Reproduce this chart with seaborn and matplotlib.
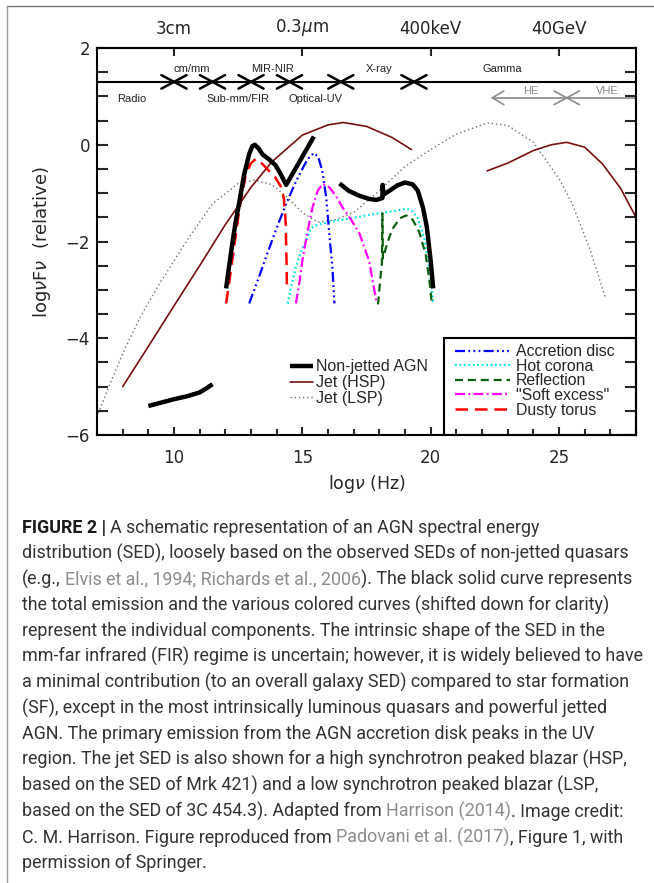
import matplotlib
matplotlib.use("Agg")
import matplotlib.pyplot as plt
import seaborn as sns
from matplotlib.lines import Line2D
from matplotlib.patches import Rectangle
from matplotlib.ticker import FixedLocator, MultipleLocator

# ---------------- data ----------------
agn_radio_x = [9.0, 9.5, 10.0, 10.5, 11.0, 11.25, 11.5]
agn_radio_y = [-5.4, -5.33, -5.26, -5.2, -5.12, -5.04, -4.95]

agn_ir_x = [12.03, 12.15, 12.27, 12.4, 12.54, 12.73, 12.93, 13.05, 13.15, 13.3,
            13.45, 13.7, 13.95, 14.15, 14.37, 14.9, 15.45]
agn_ir_y = [-2.97, -2.5, -2.05, -1.6, -1.2, -0.62, -0.19, -0.03, 0.0, -0.08,
            -0.2, -0.3, -0.42, -0.6, -0.83, -0.34, 0.17]

agn_x_x = [16.45, 16.8, 17.2, 17.6, 17.9, 18.12, 18.13, 18.16, 18.4, 18.7,
           19.0, 19.3, 19.5, 19.7, 19.85, 20.0, 20.1]
agn_x_y = [-0.8, -0.95, -1.05, -1.12, -1.14, -1.1, -0.83, -1.03, -0.95, -0.84,
           -0.78, -0.82, -0.95, -1.3, -1.7, -2.4, -2.97]

hsp_sync_x = [8.0, 9.0, 10.0, 11.0, 12.0, 13.0, 13.8, 15.0, 16.0, 16.6, 17.5, 18.5, 19.25]
hsp_sync_y = [-5.0, -4.17, -3.33, -2.5, -1.65, -0.88, -0.36, 0.2, 0.41, 0.46, 0.38, 0.15, -0.1]
hsp_ic_x = [22.2, 23.0, 24.0, 24.7, 25.3, 26.0, 26.7, 27.4, 28.0]
hsp_ic_y = [-0.54, -0.38, -0.12, 0.0, 0.05, -0.05, -0.4, -0.9, -1.5]

lsp_x = [7.05, 7.5, 8.1, 8.7, 9.4, 10.5, 11.5, 12.5, 13.1, 13.8, 14.4, 15.0, 15.6,
         16.3, 17.0, 18.0, 19.0, 20.0, 21.0, 22.2, 23.0, 24.0, 25.0, 25.5, 26.2, 26.8]
lsp_y = [-5.55, -4.95, -4.2, -3.55, -2.9, -1.98, -1.22, -0.8, -0.73, -0.82, -1.08,
         -1.4, -1.6, -1.55, -1.4, -0.95, -0.45, -0.1, 0.22, 0.45, 0.4, 0.05, -0.7,
         -1.2, -2.15, -3.15]

disc_x = [12.93, 13.3, 13.6, 14.0, 14.37, 14.7, 14.95, 15.2, 15.45, 15.62, 15.78,
          15.93, 16.05, 16.17, 16.25]
disc_y = [-3.28, -2.75, -2.3, -1.72, -1.22, -0.82, -0.55, -0.3, -0.17, -0.25, -0.55,
          -1.09, -1.84, -2.53, -3.28]

corona_x = [14.43, 14.6, 14.75, 14.95, 15.14, 15.34, 15.6, 16.2, 16.84, 17.5, 18.2,
            18.8, 19.06, 19.3, 19.5, 19.77, 19.97, 20.1]
corona_y = [-3.28, -2.85, -2.53, -2.2, -1.98, -1.72, -1.65, -1.58, -1.53, -1.46,
            -1.4, -1.35, -1.32, -1.38, -1.52, -1.98, -2.66, -3.26]

refl_x = [17.95, 18.0, 18.05, 18.1, 18.12, 18.14, 18.3, 18.5, 18.8, 19.05, 19.3,
          19.55, 19.8, 19.95, 20.05]
refl_y = [-3.3, -3.0, -2.7, -2.45, -1.42, -2.35, -2.05, -1.75, -1.52, -1.46, -1.55,
          -1.8, -2.25, -2.8, -3.3]

soft_x = [14.75, 14.9, 15.0, 15.2, 15.4, 15.6, 15.8, 16.05, 16.3, 16.56, 16.9,
          17.23, 17.6, 17.9]
soft_y = [-3.28, -2.8, -2.4, -1.8, -1.29, -0.95, -0.81, -0.88, -1.05, -1.29, -1.55,
          -1.84, -2.4, -3.28]

torus_x = [12.03, 12.15, 12.27, 12.4, 12.54, 12.8, 13.0, 13.2, 13.45, 13.7, 13.95,
           14.15, 14.28, 14.35, 14.38, 14.4]
torus_y = [-3.28, -2.85, -2.39, -1.9, -1.36, -0.6, -0.38, -0.29, -0.4, -0.54, -0.68,
           -0.85, -1.1, -1.6, -2.3, -2.95]

x_major_ticks = [10, 15, 20, 25]
top_tick_labels = ["3cm", "0.3$\\mu$m", "400keV", "40GeV"]

band_level = 1.3
band_edges = [10.0, 11.5, 13.0, 14.5, 16.5, 19.35]
upper_names = ["cm/mm", "MIR-NIR", "X-ray", "Gamma"]
upper_pos = [10.7, 13.85, 18.0, 22.8]
lower_names = ["Radio", "Sub-mm/FIR", "Optical-UV"]
lower_pos = [8.35, 12.5, 15.5]
gamma_level = 0.97
he_start = 22.4
he_vhe_edge = 25.3
gamma_names = ["HE", "VHE"]
gamma_pos = [23.9, 26.9]

legend_left_labels = ["Non-jetted AGN", "Jet (HSP)", "Jet (LSP)"]
legend_right_labels = ["Accretion disc", "Hot corona", "Reflection",
                       "\"Soft excess\"", "Dusty torus"]

caption_lines = [
    [("FIGURE 2 |", "k", "bold"), (" A schematic representation of an AGN spectral energy", "t", "normal")],
    [("distribution (SED), loosely based on the observed SEDs of non-jetted quasars", "t", "normal")],
    [("(e.g.,", "t", "normal"), (" Elvis et al., 1994; Richards et al., 2006", "g", "normal"),
     ("). The black solid curve represents", "t", "normal")],
    [("the total emission and the various colored curves (shifted down for clarity)", "t", "normal")],
    [("represent the individual components. The intrinsic shape of the SED in the", "t", "normal")],
    [("mm-far infrared (FIR) regime is uncertain; however, it is widely believed to have", "t", "normal")],
    [("a minimal contribution (to an overall galaxy SED) compared to star formation", "t", "normal")],
    [("(SF), except in the most intrinsically luminous quasars and powerful jetted", "t", "normal")],
    [("AGN. The primary emission from the AGN accretion disk peaks in the UV", "t", "normal")],
    [("region. The jet SED is also shown for a high synchrotron peaked blazar (HSP,", "t", "normal")],
    [("based on the SED of Mrk 421) and a low synchrotron peaked blazar (LSP,", "t", "normal")],
    [("based on the SED of 3C 454.3). Adapted from", "t", "normal"), (" Harrison (2014)", "g", "normal"),
     (". Image credit:", "t", "normal")],
    [("C. M. Harrison. Figure reproduced from", "t", "normal"), (" Padovani et al. (2017)", "g", "normal"),
     (", Figure 1, with", "t", "normal")],
    [("permission of Springer.", "t", "normal")],
]

# ---------------- styles ----------------
sns.set_style("ticks")
plt.rcParams['font.family'] = ['DejaVu Sans']
plt.rcParams['axes.unicode_minus'] = True
plt.rcParams['mathtext.fontset'] = 'dejavusans'

C_HSP = "#7a0f0f"
C_LSP = "#707070"
styles = {
    "agn": dict(color="black", linewidth=3.2, solid_capstyle="butt"),
    "hsp": dict(color=C_HSP, linewidth=1.2),
    "lsp": dict(color=C_LSP, linewidth=1.0, linestyle=(0, (1, 2))),
    "disc": dict(color="#0000ff", linewidth=1.6, linestyle=(0, (4.5, 1.5, 0.8, 1.5, 0.8, 1.5, 0.8, 1.5))),
    "corona": dict(color="#00e5e5", linewidth=1.6, linestyle=(0, (0.8, 1.2))),
    "refl": dict(color="#0d5e0d", linewidth=1.6, linestyle=(0, (3.6, 2.2))),
    "soft": dict(color="#ff00ff", linewidth=1.6, linestyle=(0, (4.5, 1.5, 0.8, 1.5))),
    "torus": dict(color="#ff0000", linewidth=1.8, linestyle=(0, (5, 2.8))),
}

W, H = 654, 883
fig = plt.figure(figsize=(W / 100, H / 100), dpi=100)
fig.patch.set_facecolor("white")

# caption / frame layer (pixel coordinates)
cap = fig.add_axes([0, 0, 1, 1], zorder=-1)
cap.set_xlim(0, W)
cap.set_ylim(H, 0)
cap.axis("off")
cap.plot([7, W], [6, 6], color="#777777", lw=1.0)
cap.plot([7, 7], [6, H], color="#999999", lw=1.0)

ax = fig.add_axes([97 / W, 1 - 435 / H, (636 - 97) / W, (435 - 48) / H])
ax.set_facecolor("none")


def draw(x, y, key):
    sns.lineplot(x=x, y=y, ax=ax, sort=False, estimator=None, **styles[key])


draw(lsp_x, lsp_y, "lsp")
draw(hsp_sync_x, hsp_sync_y, "hsp")
draw(hsp_ic_x, hsp_ic_y, "hsp")
draw(corona_x, corona_y, "corona")
draw(soft_x, soft_y, "soft")
draw(refl_x, refl_y, "refl")
draw(disc_x, disc_y, "disc")
draw(torus_x, torus_y, "torus")
draw(agn_radio_x, agn_radio_y, "agn")
draw(agn_ir_x, agn_ir_y, "agn")
draw(agn_x_x, agn_x_y, "agn")

ax.set_xlim(7, 28)
ax.set_ylim(-6, 2)

# band of wavelength regimes
ax.axhline(band_level, color="black", lw=1.5)
dx, dy = 0.49, 0.14
for e in band_edges:
    ax.plot([e - dx, e + dx], [band_level - dy, band_level + dy], color="black", lw=1.8)
    ax.plot([e - dx, e + dx], [band_level + dy, band_level - dy], color="black", lw=1.8)
for n, p in zip(upper_names, upper_pos):
    ax.text(p, band_level + 0.27, n, ha="center", va="center", fontsize=8,
            family="Liberation Sans", color="#222222")
for n, p in zip(lower_names, lower_pos):
    ax.text(p, band_level - 0.35, n, ha="center", va="center", fontsize=8,
            family="Liberation Sans", color="#222222")

GREY = "#8a8a8a"
ax.plot([he_start, 28], [gamma_level, gamma_level], color=GREY, lw=1.2)
ax.plot([he_start + 0.45, he_start, he_start + 0.45],
        [gamma_level + 0.14, gamma_level, gamma_level - 0.14], color=GREY, lw=1.2)
ax.plot([he_vhe_edge - dx, he_vhe_edge + dx], [gamma_level - dy, gamma_level + dy], color=GREY, lw=1.2)
ax.plot([he_vhe_edge - dx, he_vhe_edge + dx], [gamma_level + dy, gamma_level - dy], color=GREY, lw=1.2)
for n, p in zip(gamma_names, gamma_pos):
    ax.text(p, gamma_level + 0.03, n, ha="center", va="bottom", fontsize=8,
            family="Liberation Sans", color=GREY)

# axes styling
for s in ax.spines.values():
    s.set_linewidth(1.5)
    s.set_color("black")
    s.set_visible(True)
ax.xaxis.set_major_locator(FixedLocator(x_major_ticks))
ax.xaxis.set_minor_locator(MultipleLocator(1))
ax.yaxis.set_major_locator(MultipleLocator(2))
ax.yaxis.set_minor_locator(MultipleLocator(0.5))
ax.tick_params(axis="x", which="major", direction="in", length=6, width=1.5, pad=10,
               labelsize=12, top=False)
ax.tick_params(axis="x", which="minor", direction="in", length=4, width=1.5, top=False)
ax.tick_params(axis="y", which="both", direction="in", length=8, width=1.5, right=True,
               labelsize=12, pad=5)
ax.set_xlabel("log$\\nu$ (Hz)", fontsize=12.5)
ax.set_ylabel("log$\\nu$F$\\nu$  (relative)", fontsize=13)
ax.xaxis.set_label_coords(0.5, -(473 - 435) / 387)
ax.xaxis.label.set_va("top")
ax.yaxis.set_label_coords(-(97 - 53) / 539, 0.5)

sec = ax.secondary_xaxis("top")
sec.set_xticks(x_major_ticks, top_tick_labels)
sec.tick_params(axis="x", direction="in", length=6, width=1.5, labelsize=12, pad=7)
sec.spines["top"].set_linewidth(1.5)

# legends
h_left = [Line2D([], [], **styles[k]) for k in ("agn", "hsp", "lsp")]
leg1 = ax.legend(h_left, legend_left_labels, loc="upper left", bbox_to_anchor=(0.358, 0.196),
                 frameon=False, handlelength=1.45, handletextpad=0.2, labelspacing=0.06,
                 borderpad=0, borderaxespad=0,
                 prop={"family": "Liberation Sans", "size": 11.5})
ax.add_artist(leg1)
h_right = [Line2D([], [], **styles[k]) for k in ("disc", "corona", "refl", "soft", "torus")]
leg2 = ax.legend(h_right, legend_right_labels, loc="upper left", bbox_to_anchor=(0.664, 0.234),
                 frameon=False, handlelength=3.5, handletextpad=0.35, labelspacing=-0.03,
                 borderpad=0, borderaxespad=0,
                 prop={"family": "Liberation Sans", "size": 11.4})
ax.add_patch(Rectangle((20.5, -6), 7.5, 2.0, fill=False, edgecolor="black", lw=1.5,
                       clip_on=False, zorder=5))

# caption
renderer = fig.canvas.get_renderer()
CAP_FS = 12.9
colors = {"k": "#1a1a1a", "t": "#333333", "g": "#8c8c8c"}
probe1 = cap.text(0, 0, "xx", fontsize=CAP_FS, family="Roboto")
probe2 = cap.text(0, 0, "x x", fontsize=CAP_FS, family="Roboto")
space_w = probe2.get_window_extent(renderer).width - probe1.get_window_extent(renderer).width
probe1.remove()
probe2.remove()

base0, step = 533, 25.8
for i, line in enumerate(caption_lines):
    xpos = 22
    y = base0 + i * step
    for seg, c, wgt in line:
        if seg.startswith(" "):
            xpos += space_w
            seg = seg[1:]
        t = cap.text(xpos, y, seg, fontsize=CAP_FS, family="Roboto", weight=wgt,
                     color=colors[c], va="baseline", ha="left")
        xpos += t.get_window_extent(renderer).width

fig.savefig("out.png", dpi=100, facecolor="white")
